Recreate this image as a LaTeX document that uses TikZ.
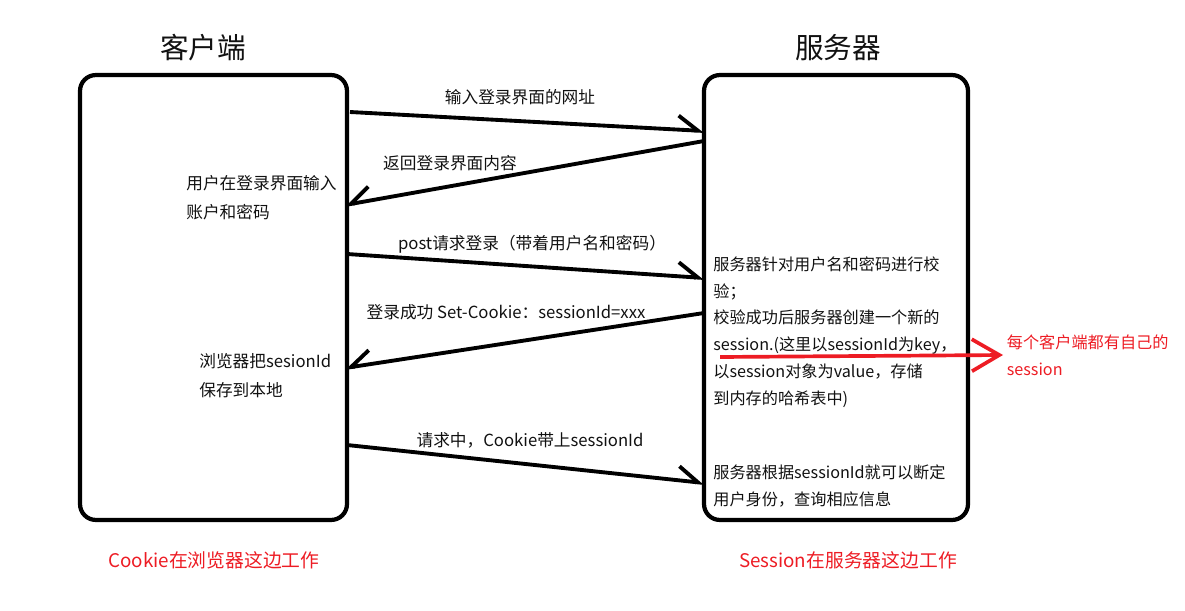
\documentclass[tikz,border=0pt]{standalone}
\usepackage{fontspec}
\setmainfont{Noto Sans CJK SC}
\usetikzlibrary{
    arrows.meta,
    positioning,
    calc
}
\definecolor{paintred}{HTML}{ED1C24}
\definecolor{inkblack}{HTML}{111111}

\begin{document}
\begin{tikzpicture}[
    x=0.02cm, y=-0.02cm,
    every node/.style={text=inkblack},
    endbox/.style={
        rectangle,
        rounded corners=9pt,
        line width=2.4pt,
        draw=black,
        minimum width=#1,
        minimum height=8.9cm
    },
    title/.style={
        font=\fontsize{16.3}{19}\selectfont
    },
    msglabel/.style={
        font=\fontsize{9.5}{12}\selectfont
    },
    note/.style={
        anchor=west,
        align=left,
        inner sep=0pt,
        font=\fontsize{9.5}{16.6}\selectfont
    },
    servernote/.style={
        anchor=west,
        align=left,
        inner sep=0pt,
        font=\fontsize{9.2}{15.2}\selectfont
    },
    sendarrow/.style={
        -{Straight Barb[left,length=4mm,width=5.6mm]},
        line width=2.2pt
    },
    replyarrow/.style={
        -{Straight Barb[right,length=4mm,width=5.6mm]},
        line width=2.2pt
    },
    redarrow/.style={
        -{Straight Barb[length=5.5mm,width=6.4mm]},
        line width=2.1pt,
        draw=paintred
    },
    rednote/.style={
        anchor=west,
        align=left,
        inner sep=2pt,
        text=paintred,
        font=\fontsize{9.2}{15.2}\selectfont
    },
    caption/.style={
        text=paintred,
        font=\fontsize{10.7}{12}\selectfont
    }
]

\useasboundingbox (0,0) rectangle (1185,611);

% =====================================================
% Client and server
% =====================================================

\node[endbox=5.34cm] (client) at (213.5,297.5) {};
\node[endbox=5.28cm] (server) at (836,297.5) {};

\node[title] (clienttitle) at (203,48) {客户端};
\node[title] (servertitle) at (838,48) {服务器};

% =====================================================
% Message ends
% =====================================================

\coordinate (c1) at (350,112);
\coordinate (s1) at (704,131);
\coordinate (s2) at (704,141);
\coordinate (c2) at (345,205);
\coordinate (c3) at (347,254);
\coordinate (s3) at (704,278);
\coordinate (s4) at (704,313);
\coordinate (c4) at (345,368);
\coordinate (c5) at (347,445);
\coordinate (s5) at (704,483);

% =====================================================
% Messages
% =====================================================

\draw[sendarrow] (c1) -- (s1);
\draw[replyarrow] (s2) -- (c2);
\draw[sendarrow] (c3) -- (s3);
\draw[replyarrow] (s4) -- (c4);
\draw[sendarrow] (c5) -- (s5);

\node[msglabel] (m1) at (520,97) {输入登录界面的网址};
\node[msglabel] (m2) at (450,163) {返回登录界面内容};
\node[msglabel] (m3) at (532,244) {post请求登录（带着用户名和密码）};
\node[msglabel] (m4) at (506,312) {登录成功 Set-Cookie：sessionId=xxx};
\node[msglabel] (m5) at (530,440) {请求中，Cookie带上sessionId};

% =====================================================
% Notes inside the boxes
% =====================================================

\node[note] (login) at (186,198)
{用户在登录界面输入\\账户和密码};

\node[note] (store) at (199,376)
{浏览器把sesionId\\保存到本地};

\node[servernote] (check) at (713,332)
{服务器针对用户名和密码进行校\\验；\\校验成功后服务器创建一个新的\\session.(这里以sessionId为key，\\以session对象为value，存储\\到内存的哈希表中)};

\node[servernote] (lookup) at (713,486)
{服务器根据sessionId就可以断定\\用户身份，查询相应信息};

% =====================================================
% Red remarks
% =====================================================

\coordinate (rs) at (720,357);
\node[rednote] (perclient) at (1003,355)
{每个客户端都有自己的\\session};
\draw[redarrow] (rs) -- (perclient.west);

\node[caption] (cookiework) at (214,560) {Cookie在浏览器这边工作};
\node[caption] (sessionwork) at (848,560) {Session在服务器这边工作};

\end{tikzpicture}
\end{document}
